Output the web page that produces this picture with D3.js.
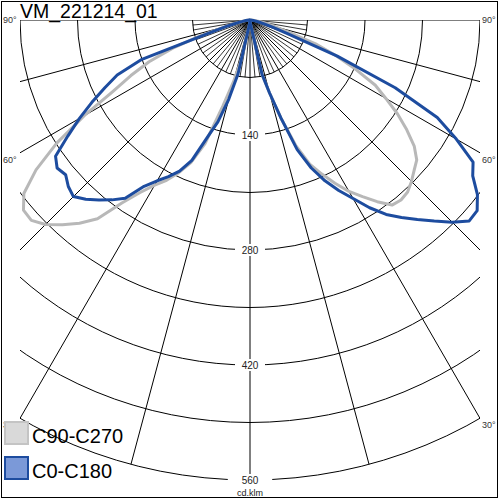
<!DOCTYPE html>
<html>
<head>
<meta charset="utf-8">
<script src="https://cdn.jsdelivr.net/npm/d3@7"></script>
<style>
  html, body { margin: 0; padding: 0; background: #fff; }
  svg { display: block; font-family: "Liberation Sans", Arial, sans-serif; }
</style>
</head>
<body>
<svg id="chart" width="500" height="500"></svg>
<script>
// ---- data ----
const title = "VM_221214_01";
const gammaAngles = [0, 2.5, 5, 7.5, 10, 12.5, 15, 17.5, 20, 22.5, 25, 27.5, 30, 32.5, 35, 37.5, 40, 42.5, 45,
                     47.5, 50, 52.5, 55, 57.5, 60, 62.5, 65, 67.5, 70, 72.5, 75, 77.5, 80, 82.5, 85, 87.5, 90];
// C0-C180 (blue): right half = C0, left half = C180
const c0   = [0, 1, 2, 4, 10, 68, 92, 125, 168, 195, 216, 234, 251, 271, 289, 303, 317, 332, 348,
              362, 361, 349, 331, 322, 290, 257, 195, 115, 50, 28, 17, 10, 6, 4, 2, 1, 0];
const c180 = [0, 1, 2, 4, 10, 67, 100, 130, 152, 185, 203, 215, 226, 240, 265, 276, 286, 296, 304,
              300, 293, 296, 289, 263, 240, 217, 195, 175, 140, 50, 28, 15, 8, 5, 3, 1, 0];
// C90-C270 (grey): right half = C90, left half = C270
const c90  = [0, 1, 2, 4, 10, 68, 92, 125, 162, 190, 207, 224, 241, 255, 270, 284, 286, 284, 278,
              271, 265, 252, 233, 213, 191, 172, 142, 113, 85, 50, 32, 22, 14, 7, 4, 1, 0];
const c270 = [0, 1, 2, 4, 10, 50, 78, 110, 160, 188, 205, 220, 232, 249, 272, 305, 323, 338, 352,
              361, 360, 347, 318, 279, 233, 188, 160, 133, 100, 62, 30, 15, 9, 5, 3, 1, 0];
const ringValues = [70, 140, 210, 280, 350, 420, 490, 560];
const ringLabels = [140, 280, 420, 560];
const spokeAngles = [0, 15, 30, 45, 60, 75, 90];
const innerSpokeAngles = [5, 10, 20, 25, 35, 40, 50, 55, 65, 70, 80, 85];
const spokeLabels = [30, 60, 90];
const unitLabel = "cd.klm";
const legendNames = ["C90-C270", "C0-C180"];

// ---- layout ----
const svg = d3.select("#chart");
const cx = 250, cy = 20;
const maxVal = 560;
const r = d3.scaleLinear().domain([0, maxVal]).range([0, 460]);
const toRad = d => d * Math.PI / 180;

svg.append("defs").append("clipPath").attr("id", "plotClip")
  .append("rect").attr("x", 20).attr("y", 20).attr("width", 460).attr("height", 470);

svg.append("rect").attr("x", 1.5).attr("y", 1.5).attr("width", 496).attr("height", 496)
  .attr("fill", "#fff").attr("stroke", "#000").attr("stroke-width", 1);

const plot = svg.append("g").attr("clip-path", "url(#plotClip)");
const g = plot.append("g").attr("transform", `translate(${cx},${cy})`);

// rings
g.selectAll("circle.ring").data(ringValues).join("circle")
  .attr("class", "ring").attr("r", d => r(d))
  .attr("fill", "none").attr("stroke", "#000").attr("stroke-width", 1);

// spokes
const spokes = [];
spokeAngles.forEach(a => { spokes.push({a, s: 1, len: maxVal}); if (a !== 0) spokes.push({a, s: -1, len: maxVal}); });
innerSpokeAngles.forEach(a => { spokes.push({a, s: 1, len: ringValues[0]}); spokes.push({a, s: -1, len: ringValues[0]}); });
g.selectAll("line.spoke").data(spokes).join("line")
  .attr("class", "spoke")
  .attr("x1", 0).attr("y1", 0)
  .attr("x2", d => d.s * r(d.len) * Math.sin(toRad(d.a)))
  .attr("y2", d => r(d.len) * Math.cos(toRad(d.a)))
  .attr("stroke", "#000").attr("stroke-width", d => d.len === maxVal ? 1 : 0.8);

// curves
function buildCurve(leftVals, rightVals) {
  const pts = [];
  for (let i = gammaAngles.length - 1; i >= 0; i--) pts.push({g: gammaAngles[i], v: leftVals[i], s: -1});
  for (let i = 1; i < gammaAngles.length; i++) pts.push({g: gammaAngles[i], v: rightVals[i], s: 1});
  return pts;
}
const radial = d3.lineRadial()
  .angle(d => Math.PI - d.s * toRad(d.g))
  .radius(d => r(d.v));

const greyColor = "#b8b8b8", blueColor = "#1d4c9f";
svg.append("g").attr("transform", `translate(${cx},${cy})`)
  .append("path").datum(buildCurve(c270, c90))
  .attr("d", radial).attr("fill", "none").attr("stroke", greyColor)
  .attr("stroke-width", 3).attr("stroke-linejoin", "round");
svg.append("g").attr("transform", `translate(${cx},${cy})`)
  .append("path").datum(buildCurve(c180, c0))
  .attr("d", radial).attr("fill", "none").attr("stroke", blueColor)
  .attr("stroke-width", 3).attr("stroke-linejoin", "round");

// ring labels on vertical axis
const rl = svg.append("g");
ringLabels.forEach((v, i) => {
  const y = cy + r(v);
  const w = i === ringLabels.length - 1 ? 44 : 30;
  rl.append("rect").attr("x", cx - w / 2).attr("y", y - 6).attr("width", w).attr("height", 12).attr("fill", "#fff");
  rl.append("text").attr("x", cx).attr("y", y + 3.5).attr("text-anchor", "middle")
    .attr("font-size", 10).attr("fill", "#222").text(v);
});
rl.append("text").attr("x", cx).attr("y", 496).attr("text-anchor", "middle")
  .attr("font-size", 9).attr("fill", "#222").text(unitLabel);

// angle labels
spokeLabels.forEach(a => {
  const dy = a === 90 ? 0 : 230 / Math.tan(toRad(a)) + 7;
  const y = cy + dy + 3;
  svg.append("text").attr("x", 3).attr("y", y).attr("font-size", 9).attr("fill", "#333").text(a + "°");
  svg.append("text").attr("x", 482).attr("y", y).attr("font-size", 9).attr("fill", "#333").text(a + "°");
});

// title
svg.append("text").attr("x", 20).attr("y", 17.5).attr("font-size", 19.5).attr("fill", "#000").text(title);

// legend
const legend = svg.append("g");
const legendStyles = [
  {fill: "#d9d9d9", stroke: "#c4c4c4", y: 422},
  {fill: "#7b99d8", stroke: "#1d4c9f", y: 457}
];
legendNames.forEach((name, i) => {
  const st = legendStyles[i];
  legend.append("rect").attr("x", 5).attr("y", st.y).attr("width", 23).attr("height", 22)
    .attr("fill", st.fill).attr("stroke", st.stroke).attr("stroke-width", 2);
  legend.append("text").attr("x", 32).attr("y", st.y + 21).attr("font-size", 20).attr("fill", "#000").text(name);
});
</script>
</body>
</html>
